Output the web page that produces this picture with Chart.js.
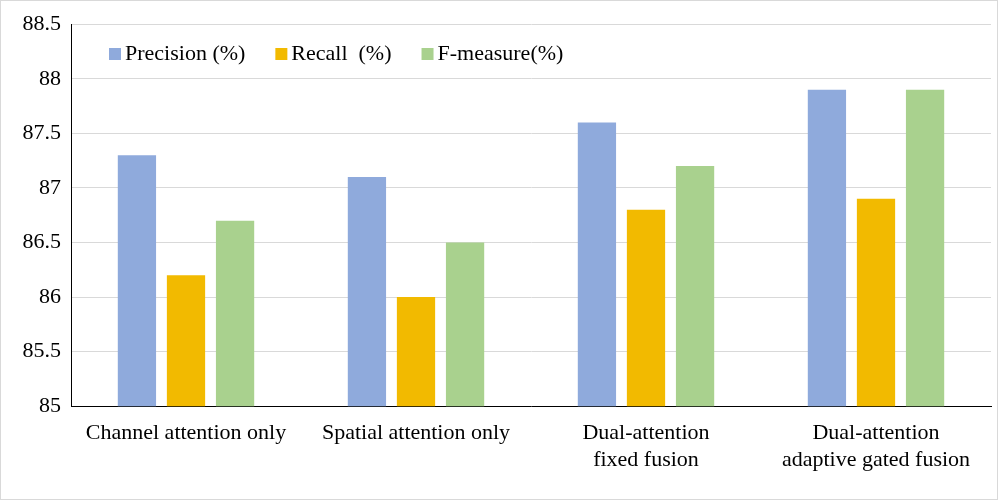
<!DOCTYPE html>
<html><head><meta charset="utf-8">
<script src="https://cdn.jsdelivr.net/npm/chart.js@4/dist/chart.umd.min.js"></script>
<style>body{margin:0;background:#fff}#wrap{width:996px;height:498px;border:1px solid #d9d9d9}</style>
</head><body><div id="wrap"><canvas id="c" width="996" height="498"></canvas></div>
<script>
const categories = ["Channel attention only", "Spatial attention only", ["Dual-attention", "fixed fusion"], ["Dual-attention", "adaptive gated fusion"]];
const precision = [87.3, 87.1, 87.6, 87.9];
const recall = [86.2, 86.0, 86.8, 86.9];
const fmeasure = [86.7, 86.5, 87.2, 87.9];
const seriesNames = ["Precision (%)", "Recall  (%)", "F-measure(%)"];
const colors = ["#8FAADC", "#F2BA00", "#A9D18E"];

const legendInside = {
  id: 'legendInside',
  afterDraw(chart) {
    const ctx = chart.ctx;
    ctx.save();
    ctx.font = '22px "Liberation Serif"';
    ctx.textBaseline = 'middle';
    let x = 108, y = 53;
    chart.data.datasets.forEach(ds => {
      ctx.fillStyle = ds.backgroundColor;
      ctx.fillRect(x, y - 6, 12, 12);
      ctx.fillStyle = '#000';
      ctx.fillText(ds.label, x + 16, y);
      x += 16 + ctx.measureText(ds.label).width + 30;
    });
    ctx.restore();
  }
};

new Chart(document.getElementById('c'), {
  type: 'bar',
  data: {
    labels: categories,
    datasets: [precision, recall, fmeasure].map((d, i) => ({
      label: seriesNames[i], data: d, backgroundColor: colors[i],
      categoryPercentage: 0.64, barPercentage: 0.78
    }))
  },
  options: {
    responsive: false, animation: false,
    layout: { padding: { top: 14, right: 6, left: 0, bottom: 20 } },
    plugins: { legend: { display: false }, tooltip: { enabled: false } },
    scales: {
      y: {
        min: 85, max: 88.5,
        afterFit(s) { s.width = 70; },
        ticks: { stepSize: 0.5, color: '#000', font: { family: 'Liberation Serif', size: 22 }, padding: 10,
                 callback: v => String(v) },
        grid: { color: '#d9d9d9', drawTicks: false },
        border: { color: '#000' }
      },
      x: {
        ticks: { color: '#000', font: { family: 'Liberation Serif', size: 22 }, maxRotation: 0, autoSkip: false, padding: 6 },
        grid: { display: false },
        border: { color: '#000' }
      }
    }
  },
  plugins: [legendInside]
});
</script></body></html>
